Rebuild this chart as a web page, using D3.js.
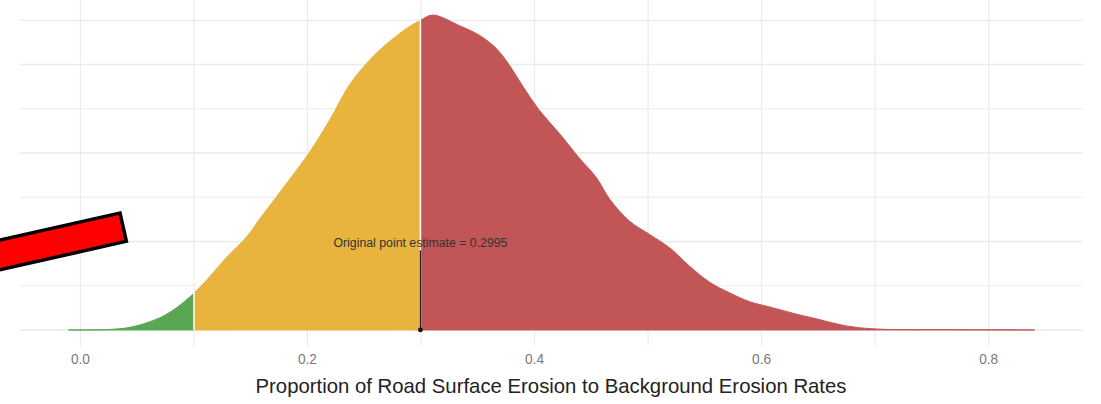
<!DOCTYPE html>
<html>
<head>
<meta charset="utf-8">
<script src="https://cdn.jsdelivr.net/npm/d3@7"></script>
<style>
	body { margin:0; background:#fff; }
	svg { display:block; }
</style>
</head>
<body>
<div id="mainWrapper"></div>
<script>
	//密度曲線
	var xs = [-0.0106, 0.0405, 0.0696, 0.0846, 0.0987, 0.1137, 0.1286, 0.1463, 0.1577, 0.1841,
		0.2018, 0.2194, 0.2370, 0.2546, 0.2722, 0.2899, 0.2996, 0.3101, 0.3339, 0.3515,
		0.3665, 0.3780, 0.3894, 0.4044, 0.4220, 0.4396, 0.4546, 0.4661, 0.4837, 0.5013,
		0.5189, 0.5366, 0.5542, 0.5718, 0.5894, 0.6070, 0.6335, 0.6450, 0.6750, 0.7010,
		0.7660, 0.8405];
	var dens = [0, 0.023, 0.136, 0.25, 0.40, 0.60, 0.82, 1.05, 1.25, 1.70,
		2.01, 2.37, 2.77, 3.05, 3.26, 3.43, 3.50, 3.56, 3.44, 3.33,
		3.18, 2.99, 2.76, 2.48, 2.22, 1.94, 1.72, 1.48, 1.23, 1.08,
		0.93, 0.72, 0.54, 0.42, 0.32, 0.26, 0.17, 0.136, 0.045, 0.011,
		0.004, 0];

	//区間（緑・黄・赤）
	var bands = [-1, 0.1, 0.2995, 2];
	var bandColors = ["#59a654", "#e8b43e", "#c25555"];

	var pointEstimate = 0.2995;
	var pointLabel = "Original point estimate = 0.2995";

	var xTicks = [0.0, 0.2, 0.4, 0.6, 0.8];
	var xMinor = [0.1, 0.3, 0.5, 0.7];
	var yGrid = [0, 0.5, 1, 1.5, 2, 2.5, 3, 3.5];
	var xTitle = "Proportion of Road Surface Erosion to Background Erosion Rates";

	var W = 1101, H = 404;

	var svg = d3.select("#mainWrapper").append("svg")
		.attr("width", W)
		.attr("height", H);

	var data = xs.map(function(d,i){ return {x:d, y:dens[i]}; });

	var x = d3.scaleLinear().domain([-0.0532, 0.8831]).range([20, 1083]);
	var y = d3.scaleLinear().domain([-0.178, 3.74]).range([345.7, -0.9]);

	//グリッド線
	var grid = svg.append("g");
	grid.selectAll(".hg")
		.data(yGrid)
		.enter()
		.append("line")
		.attr("x1", x.range()[0]).attr("x2", x.range()[1])
		.attr("y1", function(d){ return y(d); })
		.attr("y2", function(d){ return y(d); })
		.attr("stroke", "#ebebeb")
		.attr("stroke-width", function(d,i){ return i%2==0 ? 1.4 : 1.1; });

	grid.selectAll(".vg")
		.data(xTicks.concat(xMinor))
		.enter()
		.append("line")
		.attr("x1", function(d){ return x(d); })
		.attr("x2", function(d){ return x(d); })
		.attr("y1", 0).attr("y2", 346)
		.attr("stroke", "#ebebeb")
		.attr("stroke-width", 1.2);

	//密度の塗り分け
	var area = d3.area()
		.x(function(d){ return x(d.x); })
		.y0(y(0))
		.y1(function(d){ return y(d.y); })
		.curve(d3.curveCatmullRom.alpha(0.5));

	var defs = svg.append("defs");
	for(var i=0; i<3; i++){
		var lo = Math.max(x(bands[i]), 0);
		var hi = Math.min(x(bands[i+1]), W);
		defs.append("clipPath")
			.attr("id", "band" + i)
			.append("rect")
			.attr("x", lo).attr("y", 0)
			.attr("width", hi - lo).attr("height", H);

		svg.append("path")
			.datum(data)
			.attr("d", area)
			.attr("fill", bandColors[i])
			.attr("stroke", bandColors[i])
			.attr("stroke-width", 1)
			.attr("clip-path", "url(#band" + i + ")");
	}

	//境界の白線
	var interp = function(v){
		for(var k=1; k<xs.length; k++){
			if(xs[k] >= v){
				var t = (v - xs[k-1]) / (xs[k] - xs[k-1]);
				return dens[k-1] + t * (dens[k] - dens[k-1]);
			}
		}
		return 0;
	};
	[bands[1], bands[2]].forEach(function(b){
		svg.append("line")
			.attr("x1", x(b)).attr("x2", x(b))
			.attr("y1", y(0)).attr("y2", y(interp(b)) - 1)
			.attr("stroke", "#fff")
			.attr("stroke-width", 1.5);
	});

	//点推定
	svg.append("line")
		.attr("x1", x(pointEstimate)).attr("x2", x(pointEstimate))
		.attr("y1", y(0.9)).attr("y2", y(0))
		.attr("stroke", "#222")
		.attr("stroke-width", 1.3);
	svg.append("circle")
		.attr("cx", x(pointEstimate)).attr("cy", y(0))
		.attr("r", 2.4)
		.attr("fill", "#111");
	svg.append("text")
		.attr("x", x(pointEstimate)).attr("y", y(0.98))
		.attr("dy", ".35em")
		.attr("text-anchor", "middle")
		.attr("font-family", "Liberation Sans, Arial, sans-serif")
		.attr("font-size", "12px")
		.attr("fill", "#333")
		.attr("textLength", 174)
		.attr("lengthAdjust", "spacingAndGlyphs")
		.text(pointLabel);

	//x軸ラベル
	svg.append("g").selectAll("text")
		.data(xTicks)
		.enter()
		.append("text")
		.attr("x", function(d){ return x(d); })
		.attr("y", 359)
		.attr("dy", ".35em")
		.attr("text-anchor", "middle")
		.attr("font-family", "Liberation Sans, Arial, sans-serif")
		.attr("font-size", "15px")
		.attr("fill", "#7a7a7a")
		.attr("textLength", 19)
		.attr("lengthAdjust", "spacingAndGlyphs")
		.text(function(d){ return d3.format(".1f")(d); });

	svg.append("text")
		.attr("x", 551).attr("y", 386)
		.attr("dy", ".35em")
		.attr("text-anchor", "middle")
		.attr("font-family", "Liberation Sans, Arial, sans-serif")
		.attr("font-size", "21px")
		.attr("fill", "#222")
		.attr("textLength", 591)
		.attr("lengthAdjust", "spacingAndGlyphs")
		.text(xTitle);

	//赤い矢印（注釈）
	svg.append("rect")
		.attr("transform", "translate(120,213) rotate(-12.7)")
		.attr("x", -220).attr("y", 0)
		.attr("width", 220).attr("height", 29)
		.attr("fill", "#ff0000")
		.attr("stroke", "#000")
		.attr("stroke-width", 3.5);
</script>
</body>
</html>
